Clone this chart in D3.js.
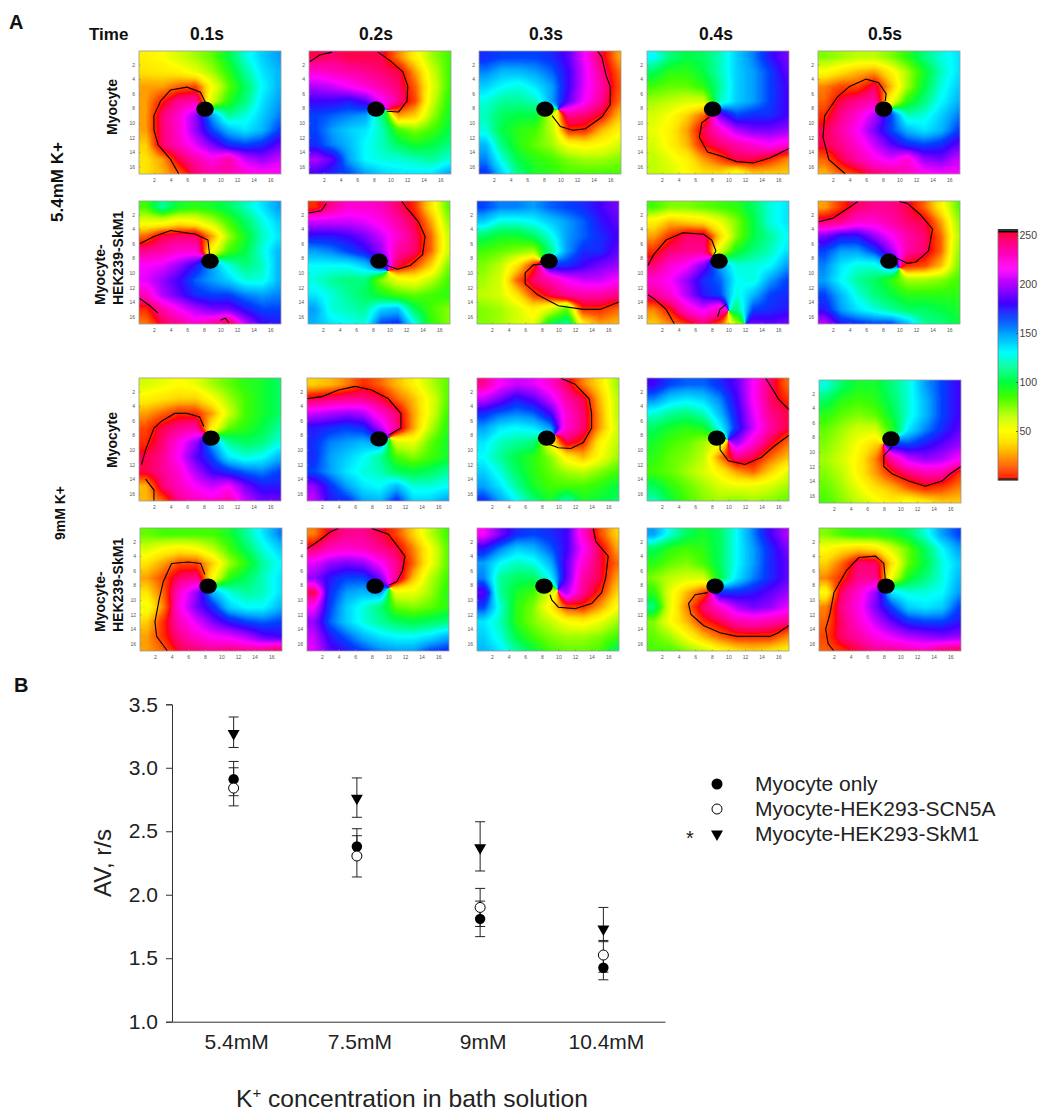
<!DOCTYPE html>
<meta charset="utf-8">
<style>
    body { margin: 0; background: #fff; }
    svg { display: block; font-family: "Liberation Sans", Arial, sans-serif; }
    .map-axis text { font-size: 5px; fill: #555; }
    .map-axis path, .map-axis line { stroke: #888; stroke-width: 0.6; }
</style>
<body>
<div id="my_dataviz"></div>
<script src="https://d3js.org/d3.v7.min.js"></script>
<script>
    // Panel A: phase at grid nodes 1,3,5..17 (rows top to bottom, columns left to right)
    var map_r1c1 = [[45,50,60,70,80,100,125,140,150],[40,42,45,55,70,90,115,135,145],[25,25,15,10,50,80,105,130,145],[25,3,240,235,60,90,110,135,150],[25,245,225,195,150,115,125,140,155],[25,245,225,195,165,145,135,145,165],[35,245,230,210,190,170,165,170,185],[40,25,250,235,220,235,205,195,205],[40,30,15,245,235,235,225,220,220]];
    var map_r1c2 = [[250,245,250,250,250,20,45,70,85],[225,230,235,240,245,250,25,60,85],[200,205,215,225,235,245,15,55,85],[180,180,175,185,215,240,10,60,90],[165,160,155,150,110,25,35,70,95],[165,150,140,135,120,85,75,85,100],[170,155,145,130,120,105,95,100,110],[200,185,150,130,125,125,120,115,125],[180,170,165,150,140,135,135,135,150]];
    var map_r1c3 = [[170,165,165,165,170,185,215,250,25],[155,145,145,150,160,180,210,240,15],[140,130,125,135,150,180,210,235,10],[125,115,115,120,150,185,215,240,15],[120,105,100,100,60,240,245,0,30],[125,100,90,85,65,5,5,30,45],[145,110,90,80,70,50,45,50,60],[155,125,100,90,85,75,70,70,75],[170,140,110,95,90,85,85,85,85]];
    var map_r1c4 = [[130,110,100,105,120,140,155,175,190],[105,90,90,100,120,140,150,165,185],[85,80,80,90,115,140,150,165,180],[70,65,60,60,120,140,150,165,180],[60,50,35,15,190,165,170,170,180],[55,45,25,250,225,200,190,190,195],[60,45,30,0,245,235,225,215,225],[65,55,45,25,10,250,250,5,20],[65,60,50,40,40,55,35,35,35]];
    var map_r1c5 = [[75,70,65,65,75,90,110,125,135],[50,40,30,25,45,70,95,120,135],[20,10,10,248,30,70,100,125,140],[15,250,240,235,50,90,110,130,145],[5,240,225,200,165,120,125,140,155],[250,235,215,190,165,145,135,145,165],[250,240,225,205,185,170,165,170,185],[15,250,235,220,210,225,195,190,205],[30,15,5,245,240,230,220,215,215]];

    var map_r2c1 = [[85,115,95,90,95,105,120,135,150],[55,55,45,50,65,85,105,125,140],[15,250,245,245,25,70,95,120,135],[240,235,225,225,50,85,100,125,145],[215,210,195,175,150,125,110,120,145],[210,195,180,160,150,140,125,125,145],[230,200,185,170,165,165,155,150,155],[5,235,215,200,190,190,175,165,165],[20,250,240,225,235,255,205,180,175]];
    var map_r2c2 = [[5,240,225,225,230,245,5,40,80],[205,205,205,210,220,235,250,25,70],[175,175,180,190,205,225,245,15,60],[150,155,165,175,195,235,245,15,60],[130,130,130,140,165,250,10,35,75],[125,115,110,110,75,55,50,65,85],[135,125,115,105,95,85,80,85,90],[150,125,120,115,140,145,105,85,75],[145,135,130,125,165,170,130,90,75]];
    var map_r2c3 = [[165,155,155,150,160,165,170,180,190],[140,125,125,130,140,150,160,175,185],[105,95,95,105,125,150,160,170,180],[85,80,75,70,110,150,170,170,185],[75,65,40,5,170,170,180,190,195],[70,60,15,245,235,215,205,205,215],[65,60,40,10,250,240,235,235,240],[75,70,60,45,60,80,5,5,15],[75,70,60,55,100,115,45,25,30]];
    var map_r2c4 = [[85,75,75,80,85,90,105,125,135],[45,30,35,40,55,75,100,125,135],[25,5,245,245,35,75,100,115,130],[5,245,240,240,60,95,110,120,135],[245,225,215,190,150,125,125,130,150],[225,215,195,170,160,130,125,150,165],[240,225,200,175,165,125,145,165,170],[20,0,225,210,230,110,165,170,175],[35,20,5,245,10,70,190,185,190]];
    var map_r2c5 = [[25,5,245,240,240,250,15,45,80],[245,240,225,225,235,245,250,25,70],[190,175,175,195,215,235,245,15,65],[165,150,150,165,195,235,245,15,70],[155,135,125,125,150,5,10,30,75],[150,130,115,105,90,70,70,75,85],[165,145,125,110,100,90,90,90,90],[175,150,135,125,115,105,105,100,95],[205,175,170,165,165,145,115,110,100]];

    var map_r3c1 = [[60,55,50,55,70,80,90,95,105],[45,40,35,35,50,70,85,95,105],[25,15,5,5,25,60,85,95,105],[10,250,240,235,45,80,90,100,115],[5,245,220,195,150,115,105,110,125],[250,240,215,185,165,135,125,130,145],[250,240,225,200,180,170,160,155,165],[30,245,230,215,205,215,190,175,175],[30,15,240,230,225,235,205,190,190]];
    var map_r3c2 = [[35,30,20,5,15,30,45,65,80],[250,245,240,240,250,15,30,55,80],[205,200,195,200,225,245,25,55,85],[175,170,165,170,200,240,25,65,90],[170,155,150,145,150,60,55,80,95],[170,150,140,130,115,85,75,85,95],[165,150,135,125,120,105,100,105,115],[195,170,150,135,130,145,125,125,130],[205,175,170,150,145,170,140,140,150]];
    var map_r3c3 = [[240,215,205,210,225,248,20,40,70],[205,190,175,185,205,235,250,30,65],[170,160,155,160,180,225,245,25,65],[150,135,130,135,150,225,245,25,60],[135,120,115,110,50,250,5,45,65],[130,115,100,90,75,45,30,50,70],[140,125,105,90,80,70,65,75,85],[150,135,115,95,85,85,85,90,100],[170,150,130,110,95,120,95,100,105]];
    var map_r3c4 = [[180,165,160,160,170,185,215,245,15],[155,140,135,140,155,180,215,245,5],[125,115,110,120,145,175,210,240,250],[105,95,90,95,130,170,205,235,250],[95,85,80,70,55,195,225,250,15],[90,80,75,65,20,240,250,15,30],[85,80,70,60,45,25,15,35,55],[105,90,80,70,60,55,55,60,70],[120,100,85,75,70,75,70,75,80]];
    var map_r3c5 = [[125,105,95,95,110,125,150,165,180],[105,90,85,90,105,125,145,165,180],[90,80,75,80,100,125,145,165,180],[80,70,60,60,90,135,155,170,185],[75,65,50,35,170,165,175,185,195],[70,60,45,20,235,205,195,200,215],[75,65,45,25,5,245,235,235,5],[80,70,55,40,30,15,5,10,20],[85,75,65,55,45,55,45,35,35]];

    var map_r4c1 = [[80,85,85,85,85,95,115,135,155],[60,50,45,50,65,85,105,125,140],[40,25,10,10,35,70,90,115,130],[25,10,245,240,50,90,105,120,135],[40,15,225,195,145,125,115,120,135],[55,20,220,190,170,140,130,130,145],[35,5,230,210,190,175,165,160,165],[25,5,240,225,215,210,200,185,180],[25,15,250,245,240,245,240,240,250]];
    var map_r4c2 = [[20,250,240,240,250,10,35,65,85],[245,230,225,230,240,250,20,50,80],[210,195,190,195,215,240,15,50,80],[195,175,165,165,190,240,30,65,85],[250,170,150,145,150,55,55,70,90],[215,165,140,125,110,80,75,80,90],[195,160,140,125,115,105,100,105,110],[205,175,160,145,135,130,130,135,145],[210,185,175,165,155,150,150,165,170]];
    var map_r4c3 = [[215,190,170,165,170,180,225,10,35],[175,155,140,145,160,180,215,250,25],[150,130,120,125,145,185,225,250,15],[155,115,105,105,130,185,235,250,25],[185,115,95,85,60,200,240,5,35],[165,125,90,75,45,10,5,25,50],[135,120,90,75,65,50,45,55,70],[140,125,100,85,75,70,70,75,85],[145,135,115,100,85,80,80,85,105]];
    var map_r4c4 = [[150,125,105,95,105,130,155,180,200],[105,90,85,90,105,130,150,170,190],[90,80,75,85,105,130,150,170,185],[75,65,60,60,100,135,155,170,185],[90,55,30,10,170,170,175,185,195],[110,55,20,245,225,200,190,195,210],[75,50,30,5,250,235,230,235,240],[80,70,50,30,15,5,5,5,20],[85,85,75,65,50,40,35,40,45]];
    var map_r4c5 = [[75,85,90,90,95,105,125,150,165],[50,40,35,40,60,80,105,130,150],[35,15,245,245,40,80,100,125,140],[20,5,240,240,55,95,110,125,145],[50,245,225,195,135,125,125,130,150],[20,240,220,190,165,140,135,140,165],[15,245,225,205,185,170,165,165,175],[10,245,235,220,210,200,195,190,195],[15,5,250,240,240,235,230,245,250]];

    // wave front traced on each map, [column, row] in map units (some maps have two pieces)
    var front_r1c1 = [[[8.2,7.2],[7.6,5.8],[6,5.1],[4,5.5],[2.8,7],[2,9],[2,11],[2.5,13],[4,15],[5,17]]];
    var front_r1c2 = [[[9.6,8.4],[11,8.5],[12,7],[12.1,5],[11.5,3],[10,1.5],[8.5,0.3]],[[0.3,1.6],[1.5,0.7],[3,0.3]]];
    var front_r1c3 = [[[9,9],[10,10.5],[11.5,11],[13,10.8],[15,9.2],[16,7.5],[16,5],[15.5,3.5],[15,1],[14.5,0.2]]];
    var front_r1c4 = [[[7.7,9.2],[6.8,10],[6.5,12],[7.5,14],[9,14.5],[11,15.3],[13,15.5],[15,14.8],[17.3,13.5]]];
    var front_r1c5 = [[[8.3,7],[8.4,6],[7.5,4.5],[6,4],[4,5],[2.5,6.5],[1,9],[0.8,12],[1.5,15],[3.5,17]]];

    var front_r2c1 = [[[8.7,7.5],[8.5,5.5],[7,4.7],[4,4.2],[2,5],[0.3,6]],[[0.3,13.5],[1.5,14.5],[2.5,15.5]],[[10,16.5],[10.6,16.2],[11,16.8]]];
    var front_r2c2 = [[[9.7,9],[11,9.5],[12.5,9],[14,7.5],[14.3,5],[13.5,3],[12,1],[11.5,0.2]],[[0.3,1.8],[1.8,1.5],[2.4,0.5]]];
    var front_r2c3 = [[[8,8.8],[7,8.9],[6,10],[6,11.5],[7.5,13],[10,14.5],[13,15],[15,15],[17.3,14]]];
    var front_r2c4 = [[[8,8],[8.5,7],[8,5.5],[7,4.7],[4.5,4.5],[2.5,5.5],[1,7.5],[0.3,9]],[[0.3,13],[1,13.5],[2.5,15],[3.5,17]],[[8.7,16],[9,15],[9.7,14.3]]];
    var front_r2c5 = [[[9.7,8],[11,8.7],[12,8.5],[13.5,7],[14,4],[12.5,2],[11,0.5],[10,0.2]],[[0.3,3],[2,2.5],[4,1],[5,0.2]]];

    var front_r3c1 = [[[8,6.8],[7.5,5.5],[6,5],[4.5,5],[3,6],[2,7],[1,10],[0.5,12]],[[1,14],[2,15.5],[2,17]]];
    var front_r3c2 = [[[10,8],[11.5,7],[11.5,5],[10,3],[8,1.8],[6,1.3],[4,1.8],[2,2.7],[0.2,3]]];
    var front_r3c3 = [[[9,9.3],[10,9.7],[11.5,9.8],[13,9],[14,7],[14,5],[13.7,3],[12,1],[10.3,0.2]]];
    var front_r3c4 = [[[9,9.3],[9,10],[10,11.5],[12,12],[14,11],[15.5,9.5],[17.3,8]],[[14.5,0.2],[15.5,2],[16,3],[17.3,4.5]]];
    var front_r3c5 = [[[9,9.3],[8,10.5],[8,12],[9,13],[11,14],[13,14.7],[15,14],[16,13],[17.3,12]]];

    var front_r4c1 = [[[8,6.5],[7.5,5],[6,4.8],[4,5],[3,7.5],[2.5,10],[2,13],[2.2,15],[3.5,17]]];
    var front_r4c2 = [[[10,8],[11,7.5],[11.7,6],[12,4],[11,2.5],[10,1],[8,0.2]],[[0.2,3],[1.5,2],[3,0.7],[4,0.2]]];
    var front_r4c3 = [[[9,9.3],[9.2,10],[10,11],[12,11.2],[14,10.5],[15.2,9],[15.7,7],[16,4],[14.5,2],[14.2,0.2]]];
    var front_r4c4 = [[[7.5,9],[6,9.3],[5.2,10.5],[5.5,12],[7,13.5],[9,14.5],[11,15],[13,15],[15,15],[16,14.5],[17.3,13.5]]];
    var front_r4c5 = [[[8.2,7.3],[8,5],[7,4],[5,4.2],[3.5,6],[2,9],[1.5,12],[1,14],[1.3,16],[2,17]]];

    // black core of each map, [column, row]
    var cores = [
        [[8.15,8.1],[8.27,8.1],[8.15,8.1],[8.1,8.1],[8.1,8.1]],
        [[8.75,8.4],[8.75,8.4],[8.87,8.4],[8.87,8.4],[8.75,8.4]],
        [[8.87,8.4],[8.87,8.5],[8.6,8.4],[8.6,8.4],[8.87,8.2]],
        [[8.4,8.1],[8.4,8.1],[8.27,8.1],[8.4,8.1],[8.27,8.1]]
    ];

    var maps = [
        [map_r1c1,map_r1c2,map_r1c3,map_r1c4,map_r1c5],
        [map_r2c1,map_r2c2,map_r2c3,map_r2c4,map_r2c5],
        [map_r3c1,map_r3c2,map_r3c3,map_r3c4,map_r3c5],
        [map_r4c1,map_r4c2,map_r4c3,map_r4c4,map_r4c5]
    ];
    var fronts = [
        [front_r1c1,front_r1c2,front_r1c3,front_r1c4,front_r1c5],
        [front_r2c1,front_r2c2,front_r2c3,front_r2c4,front_r2c5],
        [front_r3c1,front_r3c2,front_r3c3,front_r3c4,front_r3c5],
        [front_r4c1,front_r4c2,front_r4c3,front_r4c4,front_r4c5]
    ];

    var timeLabels = ["0.1s","0.2s","0.3s","0.4s","0.5s"];
    var mapTicks = [2,4,6,8,10,12,14,16];

    // colour bar stops
    var barValues = [0,12,25,38,50,65,85,100,115,130,150,165,180,197,215,240,252,255];
    var barColors = ["#ff1000","#ff5000","#ffa000","#ffe000","#ffff00","#c0ff00","#40ff00","#00ff40","#00ff99","#00ffff","#00a0ff","#0040ff","#4000ff","#a000ff","#ff00ff","#ff0090","#ff0040","#ff0010"];
    var barTicks = [50,100,150,200,250];

    // Panel B
    var concentrations = ["5.4mM","7.5mM","9mM","10.4mM"];
    var myocyteMean = [2.91,2.38,1.81,1.425];
    var myocyteUpper = [3.00,2.465,1.95,1.52];
    var myocyteLower = [2.78,2.32,1.75,1.33];
    var scn5aMean = [2.84,2.305,1.90,1.525];
    var scn5aUpper = [3.05,2.52,2.05,1.64];
    var scn5aLower = [2.70,2.14,1.67,1.39];
    var skm1Mean = [3.27,2.76,2.37,1.73];
    var skm1Upper = [3.40,2.92,2.575,1.90];
    var skm1Lower = [3.16,2.61,2.187,1.63];
    var avTicks = [1.0,1.5,2.0,2.5,3.0,3.5];
    var legendLabels = ["Myocyte only","Myocyte-HEK293-SCN5A","Myocyte-HEK293-SkM1"];

    // layout
    var panelLeft = [[139,309,479,647,818],[139,308,477,647,818],[139,307,477,647,819],[140,307,477,647,819]];
    var panelTop = [[51,51,51,51,51],[201,201,201,201,201],[378,378,378,378,380],[528,528,528,528,528]];
    var panelW = 142, panelH = 123;
    var timeX = [207,376,546,716,885];

    var svg = d3.select("#my_dataviz").append("svg")
        .attr("width", 1038)
        .attr("height", 1111);

    var phaseColor = d3.scaleLinear().domain(barValues).range(barColors);
    var lut = d3.range(256).map(function(v) { return d3.rgb(phaseColor(v)); });
    var nodeScale = d3.scaleLinear().domain([1,17]).range([0,8]).clamp(true);

    // draw one map: blend the node phases around the colour circle
    function mapImage(grid, x, y) {
        var canvas = document.createElement("canvas");
        canvas.width = panelW;
        canvas.height = panelH;
        var ctx = canvas.getContext("2d");
        var img = ctx.createImageData(panelW, panelH);
        var k = 2 * Math.PI / 256;
        for (var j = 0; j < panelH; j++) {
            var gy = nodeScale(y.invert(j + 0.5));
            var j0 = Math.min(7, Math.floor(gy)), fy = gy - j0;
            for (var i = 0; i < panelW; i++) {
                var gx = nodeScale(x.invert(i + 0.5));
                var i0 = Math.min(7, Math.floor(gx)), fx = gx - i0;
                var a = grid[j0][i0] * k, b = grid[j0][i0 + 1] * k;
                var c = grid[j0 + 1][i0] * k, d = grid[j0 + 1][i0 + 1] * k;
                var w1 = (1 - fx) * (1 - fy), w2 = fx * (1 - fy), w3 = (1 - fx) * fy, w4 = fx * fy;
                var sn = w1 * Math.sin(a) + w2 * Math.sin(b) + w3 * Math.sin(c) + w4 * Math.sin(d);
                var cs = w1 * Math.cos(a) + w2 * Math.cos(b) + w3 * Math.cos(c) + w4 * Math.cos(d);
                var v = Math.round((Math.atan2(sn, cs) / k + 256)) % 256;
                var col = lut[v], p = (j * panelW + i) * 4;
                img.data[p] = col.r;
                img.data[p + 1] = col.g;
                img.data[p + 2] = col.b;
                img.data[p + 3] = 255;
            }
        }
        ctx.putImageData(img, 0, 0);
        return canvas.toDataURL();
    }

    var x = d3.scaleLinear().domain([0.2,17.3]).range([0,panelW]);
    var y = d3.scaleLinear().domain([0.15,17]).range([0,panelH]);
    var frontLine = d3.line().x(function(d) { return x(d[0]); }).y(function(d) { return y(d[1]); });

    maps.forEach(function(row, r) {
        row.forEach(function(grid, c) {
            var g = svg.append("g")
                .attr("transform", "translate(" + panelLeft[r][c] + "," + panelTop[r][c] + ")");
            g.append("image")
                .attr("width", panelW)
                .attr("height", panelH)
                .attr("preserveAspectRatio", "none")
                .attr("href", mapImage(grid, x, y));
            g.selectAll("path.front")
                .data(fronts[r][c])
                .enter()
                .append("path")
                .attr("class", "front")
                .attr("d", frontLine)
                .attr("fill", "none")
                .attr("stroke", "#000")
                .attr("stroke-width", 1.1);
            g.append("ellipse")
                .attr("cx", x(cores[r][c][0]))
                .attr("cy", y(cores[r][c][1]))
                .attr("rx", 8.8)
                .attr("ry", 7.6)
                .attr("fill", "#000");
            g.append("rect")
                .attr("width", panelW)
                .attr("height", panelH)
                .attr("fill", "none")
                .attr("stroke", "#999")
                .attr("stroke-width", 0.8);
            g.append("g")
                .attr("class", "map-axis")
                .attr("transform", "translate(0," + panelH + ")")
                .call(d3.axisBottom(x).tickValues(mapTicks).tickSize(-1.5).tickPadding(4).tickFormat(d3.format("d")))
                .select(".domain").remove();
            g.append("g")
                .attr("class", "map-axis")
                .call(d3.axisLeft(y).tickValues(mapTicks).tickSize(-1.5).tickPadding(4).tickFormat(d3.format("d")))
                .select(".domain").remove();
        });
    });

    function boldText(txt, px, py, size, rotate, anchor) {
        var t = svg.append("text")
            .attr("font-weight", "bold")
            .attr("font-size", size)
            .attr("text-anchor", anchor || "middle")
            .attr("fill", "#111")
            .text(txt);
        if (rotate) {
            t.attr("transform", "translate(" + px + "," + py + ")rotate(-90)");
        } else {
            t.attr("x", px).attr("y", py);
        }
        return t;
    }

    boldText("A", 9, 29, 20, false, "start");
    boldText("Time", 89, 40, 17, false, "start");
    timeLabels.forEach(function(t, i) { boldText(t, timeX[i], 40, 17.5); });
    boldText("Myocyte", 117, 107, 14, true);
    boldText("Myocyte-", 105, 305, 14, true, "start");
    boldText("HEK239-SkM1", 123, 305, 14, true, "start");
    boldText("Myocyte", 117, 440, 14, true);
    boldText("Myocyte-", 105, 632, 14, true, "start");
    boldText("HEK239-SkM1", 123, 632, 14, true, "start");
    boldText("5.4mM K+", 63, 182, 17, true);
    boldText("9mM K+", 65, 513, 14, true);
    boldText("B", 14, 692, 20, false, "start");

    // colour bar
    var barY = d3.scaleLinear().domain([0,255]).range([480,230]);
    var bar = svg.append("g");
    bar.selectAll("rect")
        .data(d3.range(256))
        .enter()
        .append("rect")
        .attr("x", 998)
        .attr("y", function(d) { return barY(d + 1); })
        .attr("width", 20)
        .attr("height", barY(0) - barY(1) + 0.5)
        .attr("fill", function(d) { return (d < 2 || d > 252) ? "#000" : phaseColor(d); });
    bar.append("rect")
        .attr("x", 998).attr("y", barY(255))
        .attr("width", 20).attr("height", barY(0) - barY(255))
        .attr("fill", "none").attr("stroke", "#777").attr("stroke-width", 0.8);
    var barAxis = svg.append("g")
        .attr("transform", "translate(1018,0)")
        .call(d3.axisRight(barY).tickValues(barTicks).tickSize(-2).tickPadding(1.5));
    barAxis.select(".domain").remove();
    barAxis.selectAll("line").attr("stroke", "#555");
    barAxis.selectAll("text").attr("font-size", 10.5).attr("font-family", "Liberation Sans").attr("fill", "#444");

    // Panel B scatter with error bars
    var bx = d3.scaleBand().domain(concentrations).range([172,665]);
    var by = d3.scaleLinear().domain([1,3.5]).range([1021.7,704.3]);
    var center = function(i) { return bx(concentrations[i]) + bx.bandwidth() / 2; };

    var yAxis = svg.append("g")
        .attr("transform", "translate(172,0)")
        .call(d3.axisLeft(by).tickValues(avTicks).tickSize(6).tickPadding(8).tickFormat(d3.format(".1f")));
    yAxis.selectAll("text").attr("font-size", 21).attr("font-family", "Liberation Sans").attr("fill", "#222");
    yAxis.selectAll("line").attr("stroke", "#333");
    yAxis.select(".domain").attr("stroke", "#333");

    var xAxis = svg.append("g")
        .attr("transform", "translate(0,1021.7)")
        .call(d3.axisBottom(bx).tickSize(0).tickPadding(12));
    xAxis.selectAll("text").attr("font-size", 21).attr("font-family", "Liberation Sans").attr("fill", "#222").attr("dx", 3);
    xAxis.select(".domain").attr("stroke", "#333");

    function errorBars(upper, lower) {
        var g = svg.append("g").attr("stroke", "#222").attr("stroke-width", 1);
        concentrations.forEach(function(name, i) {
            var cx = center(i);
            g.append("line").attr("x1", cx).attr("x2", cx).attr("y1", by(upper[i])).attr("y2", by(lower[i]));
            g.append("line").attr("x1", cx - 5).attr("x2", cx + 5).attr("y1", by(upper[i])).attr("y2", by(upper[i]));
            g.append("line").attr("x1", cx - 5).attr("x2", cx + 5).attr("y1", by(lower[i])).attr("y2", by(lower[i]));
        });
    }
    errorBars(skm1Upper, skm1Lower);
    errorBars(myocyteUpper, myocyteLower);
    errorBars(scn5aUpper, scn5aLower);

    var downTriangle = d3.symbol().type(d3.symbolTriangle).size(62);

    svg.selectAll("path.skm1")
        .data(skm1Mean)
        .enter()
        .append("path")
        .attr("class", "skm1")
        .attr("d", downTriangle)
        .attr("transform", function(d, i) { return "translate(" + center(i) + "," + by(d) + ")rotate(180)"; })
        .attr("fill", "#000");
    svg.selectAll("circle.myo")
        .data(myocyteMean)
        .enter()
        .append("circle")
        .attr("class", "myo")
        .attr("cx", function(d, i) { return center(i); })
        .attr("cy", function(d) { return by(d); })
        .attr("r", 5.2)
        .attr("fill", "#000");
    svg.selectAll("circle.scn")
        .data(scn5aMean)
        .enter()
        .append("circle")
        .attr("class", "scn")
        .attr("cx", function(d, i) { return center(i); })
        .attr("cy", function(d) { return by(d); })
        .attr("r", 5)
        .attr("fill", "#fff")
        .attr("stroke", "#000")
        .attr("stroke-width", 1);

    svg.append("text")
        .attr("transform", "translate(111,863)rotate(-90)")
        .attr("text-anchor", "middle")
        .attr("font-size", 24)
        .attr("fill", "#222")
        .text("AV, r/s");

    var xLabel = svg.append("text")
        .attr("x", 236)
        .attr("y", 1107)
        .attr("font-size", 24.6)
        .attr("fill", "#222");
    xLabel.append("tspan").text("K");
    xLabel.append("tspan").attr("font-size", 15).attr("dy", -9).text("+");
    xLabel.append("tspan").attr("dy", 9).text(" concentration in bath solution");

    // legend
    var legendY = [784,809,834];
    var legend = svg.append("g");
    legend.append("circle").attr("cx", 717).attr("cy", legendY[0]).attr("r", 5.5).attr("fill", "#000");
    legend.append("circle").attr("cx", 717).attr("cy", legendY[1]).attr("r", 5).attr("fill", "#fff").attr("stroke", "#000");
    legend.append("path").attr("d", downTriangle).attr("transform", "translate(717," + legendY[2] + ")rotate(180)").attr("fill", "#000");
    legendLabels.forEach(function(t, i) {
        legend.append("text")
            .attr("x", 755)
            .attr("y", legendY[i] + 7)
            .attr("font-size", 21)
            .attr("fill", "#222")
            .text(t);
    });
    legend.append("text").attr("x", 686).attr("y", 845).attr("font-size", 20).attr("fill", "#222").text("*");
</script>
</body>
